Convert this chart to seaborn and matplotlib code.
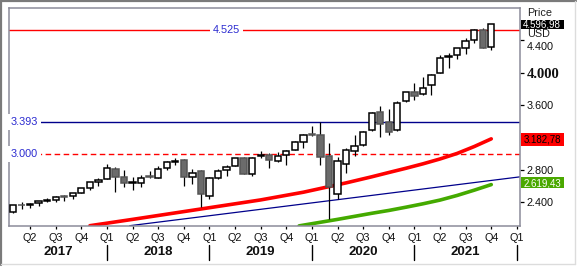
import matplotlib
matplotlib.use("Agg")
import matplotlib.pyplot as plt
from matplotlib.lines import Line2D
from matplotlib.patches import Rectangle
from matplotlib.transforms import ScaledTranslation
import numpy as np
import pandas as pd
import seaborn as sns

# ---------------- data (monthly candles, Feb 2017 .. Oct 2021) ----------------
opens = [2285, 2364, 2363, 2388, 2415, 2431, 2477, 2474, 2521, 2583, 2645,
         2683, 2816, 2715, 2633, 2643, 2718, 2705, 2822, 2897, 2926, 2718, 2790,
         2476, 2703, 2798, 2848, 2952, 2751, 2971, 2980, 2910, 2983, 3050, 3144,
         3244, 3236, 2974, 2499, 2869, 3038, 3105, 3288, 3508, 3385, 3296, 3645,
         3764, 3732, 3842, 3993, 4192, 4217, 4300, 4406, 4528, 4318]
highs = [2371, 2401, 2398, 2419, 2454, 2484, 2491, 2519, 2582, 2657, 2695,
         2873, 2835, 2801, 2718, 2742, 2791, 2848, 2916, 2941, 2940, 2815, 2800,
         2708, 2813, 2861, 2949, 2955, 2965, 3028, 3014, 3022, 3050, 3154, 3248,
         3338, 3394, 3137, 2955, 3068, 3233, 3280, 3514, 3588, 3550, 3646, 3760,
         3870, 3950, 3983, 4218, 4238, 4302, 4429, 4537, 4546, 4598]
lows = [2271, 2322, 2328, 2352, 2405, 2407, 2417, 2446, 2520, 2557, 2605,
        2682, 2533, 2585, 2553, 2594, 2698, 2699, 2796, 2864, 2603, 2631, 2347,
        2444, 2682, 2722, 2848, 2751, 2728, 2953, 2822, 2892, 2855, 3050, 3071,
        3214, 2856, 2192, 2447, 2767, 2966, 3101, 3284, 3209, 3234, 3279, 3633,
        3662, 3725, 3723, 3993, 4057, 4165, 4233, 4368, 4306, 4279]
closes = [2364, 2363, 2384, 2412, 2423, 2470, 2472, 2519, 2575, 2648, 2674,
          2824, 2714, 2641, 2648, 2705, 2717, 2816, 2902, 2914, 2712, 2760, 2507,
          2704, 2784, 2834, 2946, 2752, 2942, 2980, 2926, 2977, 3038, 3141, 3231,
          3226, 2954, 2585, 2912, 3044, 3100, 3271, 3500, 3363, 3270, 3622, 3756,
          3714, 3811, 3973, 4181, 4204, 4298, 4395, 4523, 4308, 4597]

# moving averages (month index, value)
red_ma_idx = [9, 14, 19, 24, 29, 34, 39, 42, 44, 46, 48, 50, 52, 54, 56]
red_ma_val = [2112, 2190, 2270, 2350, 2430, 2525, 2640, 2715, 2768, 2820,
              2875, 2935, 3003, 3088, 3183]
green_ma_idx = [33.5, 38, 42, 44, 46, 48, 50, 52, 54, 56]
green_ma_val = [2110, 2190, 2265, 2300, 2340, 2382, 2428, 2485, 2550, 2619]

# trend line (two points, month index / value)
trend_idx = [14.5, 59.4]
trend_val = [2123, 2715]

# horizontal levels
level_vals = [4525, 3393, 3000]
level_labels = ["4.525", "3.393", "3.000"]

# axis
quarter_idx = list(range(2, 60, 3))
quarter_labels = ["Q2", "Q3", "Q4"] + ["Q1", "Q2", "Q3", "Q4"] * 4 + ["Q1"]
year_centers = [5.3, 17, 29, 41, 53]
year_labels = ["2017", "2018", "2019", "2020", "2021"]
year_seps = [11, 23, 35, 47, 59]
ytick_vals = [2400, 2800, 3600, 4000, 4400]

last_price = "4.596,98"
red_ma_label = "3.182,78"
green_ma_label = "2.619,43"

# ---------------- figure ----------------
sns.set_style("white")
plt.rcParams["font.family"] = ["Liberation Sans", "DejaVu Sans"]

W, H = 577, 267
fig = plt.figure(figsize=(W / 100, H / 100), dpi=100)
L, R, T, B = 9, 520.3, 8.3, 225.7
ax = fig.add_axes([L / W, 1 - B / H, (R - L) / W, (B - T) / H])

df = pd.DataFrame({"idx": np.arange(len(opens)), "o": opens, "h": highs,
                   "l": lows, "c": closes})

YMIN, YMAX = 2112, 4793
ax.set_xlim(-0.47, 59.4)
ax.set_ylim(YMIN, YMAX)

# moving averages & trend
sns.lineplot(x=red_ma_idx, y=red_ma_val, ax=ax, color="#ff0000", lw=2.6,
             zorder=2, legend=False)
sns.lineplot(x=green_ma_idx, y=green_ma_val, ax=ax, color="#44aa00", lw=2.6,
             zorder=2, legend=False)
ax.axline((trend_idx[0], trend_val[0]), (trend_idx[1], trend_val[1]),
          color="#00008b", lw=0.9, zorder=2)

# horizontal levels
ax.axhline(level_vals[0], color="#ff0000", lw=1.0, zorder=1)
ax.axhline(level_vals[1], color="#00008b", lw=1.0, zorder=1)
ax.axhline(level_vals[2], color="#ff0000", lw=1.0, ls=(0, (4, 2.5)), zorder=1)
lbl_kw = dict(color="#2a2ad0", fontsize=7.8, va="center", zorder=3,
              bbox=dict(facecolor="white", edgecolor="none", pad=2.2))
ax.text(25.0, level_vals[0], level_labels[0], ha="center", **lbl_kw)
ax.text(-0.25, level_vals[1], level_labels[1], ha="left", **lbl_kw)
ax.text(-0.25, level_vals[2], level_labels[2], ha="left", **lbl_kw)

# candles
width = 0.74
for _, r in df.iterrows():
    up = r.c >= r.o
    ax.vlines(r.idx, r.l, r.h, color="black", lw=0.9, zorder=4)
    lo, hi = min(r.o, r.c), max(r.o, r.c)
    hgt = max(hi - lo, 4)
    ax.add_patch(Rectangle((r.idx - width / 2, lo), width, hgt,
                           facecolor="white" if up else "#6b6b6b",
                           edgecolor="black" if up else "#555555",
                           lw=1.1, zorder=5))

# spines
for s in ax.spines.values():
    s.set_visible(True)
    s.set_color("#8c8c9a")
    s.set_linewidth(1.1)

# y ticks on right
ax.yaxis.tick_right()
ax.set_yticks(ytick_vals)
ax.set_yticklabels([f"{v:,.0f}".replace(",", ".") for v in ytick_vals])
ax.tick_params(axis="y", right=True, length=3.2, width=0.9, color="black",
               pad=1.5, labelsize=7.8, labelcolor="#101010")
for t in ax.get_yticklabels():
    if t.get_text() == "4.000":
        t.set_fontfamily(["Liberation Serif", "DejaVu Serif"])
        t.set_fontweight("bold")
        t.set_fontsize(10.5)
    if t.get_text() == "4.400":
        t.set_transform(t.get_transform() +
                        ScaledTranslation(0, -0.06, fig.dpi_scale_trans))

# x ticks
ax.set_xticks(quarter_idx)
ax.set_xticklabels(quarter_labels)
ax.tick_params(axis="x", bottom=True, length=2.5, width=0.9, color="black",
               pad=2.5, labelsize=7.8, labelcolor="#101010")
ax.set_xlabel("")
ax.set_ylabel("")

# year labels and separators (below axis)
for xc, lab in zip(year_centers, year_labels):
    ax.text(xc, -0.095, lab, transform=ax.get_xaxis_transform(), ha="center",
            va="top", fontsize=9.5, fontweight="bold", color="#101010",
            clip_on=False)
for xs in year_seps:
    ax.add_artist(Line2D([xs, xs], [-0.087, -0.16],
                         transform=ax.get_xaxis_transform(), color="black",
                         lw=1.0, clip_on=False))

# right-side header and value boxes (figure pixel helpers)
def fx(px):
    return px / W

def fy(py):
    return 1 - py / H

fig.text(fx(527), fy(13.5), "Price", fontsize=7.8, color="#202020",
         va="center", ha="left")
fig.text(fx(527), fy(34.0), "USD", fontsize=7.8, color="#202020",
         va="center", ha="left")

def value_box(y0, y1, face, txt, tcolor):
    fig.add_artist(Rectangle((fx(520.5), fy(y1)), fx(563.5) - fx(520.5),
                             fy(y0) - fy(y1), transform=fig.transFigure,
                             facecolor=face, edgecolor="none", zorder=10))
    fig.text(fx(542), fy((y0 + y1) / 2 + 0.3), txt, fontsize=7.0, color=tcolor,
             va="center", ha="center", zorder=11)

value_box(20, 29.3, "black", last_price, "white")
value_box(132.7, 146, "#ff0000", red_ma_label, "black")
value_box(177.3, 188.3, "#4aa800", green_ma_label, "white")

# outer frame
fig.add_artist(Line2D([fx(1), fx(1)], [fy(1), fy(265)], transform=fig.transFigure,
                      color="#7a7a7a", lw=1.6))
fig.add_artist(Line2D([fx(1), fx(576)], [fy(1), fy(1)], transform=fig.transFigure,
                      color="#7a7a7a", lw=1.6))
fig.add_artist(Line2D([fx(1), fx(575)], [fy(264), fy(264)], transform=fig.transFigure,
                      color="#dcdcdc", lw=1.0))
fig.add_artist(Line2D([fx(574.5), fx(574.5)], [fy(1), fy(264)], transform=fig.transFigure,
                      color="#dcdcdc", lw=1.0))

fig.savefig("out.png", dpi=100)
